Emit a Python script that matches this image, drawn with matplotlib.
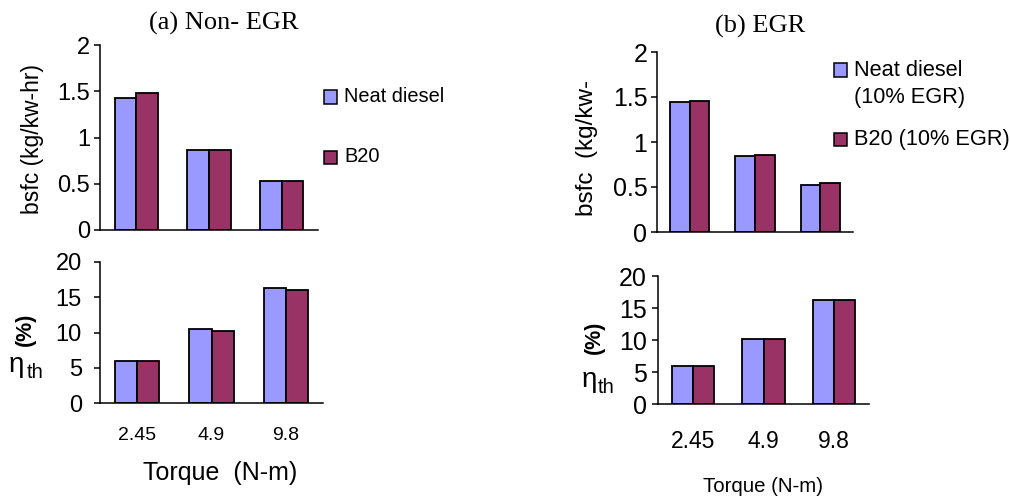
import matplotlib
matplotlib.use("Agg")
import matplotlib.pyplot as plt
from matplotlib.patches import Rectangle
import numpy as np

# torque levels (N-m)
torque = ["2.45", "4.9", "9.8"]

# (a) Non-EGR
bsfc_neat = [1.43, 0.86, 0.53]
bsfc_b20 = [1.48, 0.86, 0.53]
eff_neat = [5.9, 10.5, 16.3]
eff_b20 = [5.9, 10.2, 16.0]

# (b) EGR
bsfc_neat_egr = [1.44, 0.84, 0.52]
bsfc_b20_egr = [1.46, 0.86, 0.54]
eff_neat_egr = [6.0, 10.1, 16.3]
eff_b20_egr = [6.0, 10.1, 16.3]

bsfc_ticks = [0, 0.5, 1, 1.5, 2]
bsfc_tl = ["0", "0.5", "1", "1.5", "2"]
eff_ticks = [0, 5, 10, 15, 20]
eff_tl = ["0", "5", "10", "15", "20"]

c_neat = "#9999FF"
c_b20 = "#993366"
sans = "Liberation Sans"
serif = "Liberation Serif"

W, H = 1010, 500
fig = plt.figure(figsize=(W / 100, H / 100), dpi=100)


def px(x0, y0, x1, y1):
    # pixel box (top-left origin) -> figure fractions
    return [x0 / W, 1 - y1 / H, (x1 - x0) / W, (y1 - y0) / H]


def ftext(x, y, s, **kw):
    fig.text(x / W, 1 - y / H, s, **kw)


def panel(rect, a, b, ticks, tl, yfs, ypad=3, xfs=None, xpad=16):
    ax = fig.add_axes(rect)
    x = np.arange(len(torque))
    w = 0.3
    ax.bar(x - w / 2, a, w, color=c_neat, edgecolor="black", linewidth=1.3)
    ax.bar(x + w / 2, b, w, color=c_b20, edgecolor="black", linewidth=1.3)
    ax.set_xlim(-0.5, len(torque) - 0.5)
    ax.set_ylim(ticks[0], ticks[-1])
    ax.set_yticks(ticks)
    ax.set_yticklabels(tl, fontsize=yfs, family=sans)
    for s in ["top", "right"]:
        ax.spines[s].set_visible(False)
    ax.spines["left"].set_linewidth(1.1)
    ax.spines["bottom"].set_linewidth(1.1)
    ax.tick_params(axis="y", direction="out", length=4, width=1.1, pad=ypad)
    if xfs:
        ax.set_xticks(x)
        ax.set_xticklabels(torque, fontsize=xfs, family=sans)
        ax.tick_params(axis="x", length=0, pad=xpad)
    else:
        ax.set_xticks([])
    return ax


def legend(x, rows, fs, box=13):
    # rows: (y_centre, colour, label lines, line gap)
    for yc, col, lines, gap in rows:
        fig.add_artist(Rectangle((x / W, 1 - (yc + box / 2) / H), box / W, box / H,
                                 transform=fig.transFigure, facecolor=col,
                                 edgecolor="black", linewidth=1.1))
        for i, line in enumerate(lines):
            ftext(x + box + 7, yc + i * gap, line, fontsize=fs, family=sans,
                  ha="left", va="center")


# ---- (a) Non-EGR ----
panel(px(100, 45, 318, 230), bsfc_neat, bsfc_b20, bsfc_ticks, bsfc_tl, 17)
ftext(33, 139, "bsfc (kg/kw-hr)", fontsize=16.5, family=sans, rotation=90,
      ha="center", va="center")
ftext(224, 23, "(a) Non- EGR", fontsize=19, family=serif, ha="center", va="center")
legend(324, [(97, c_neat, ["Neat diesel"], 0), (157, c_b20, ["B20"], 0)], 14.4)

panel(px(100, 262, 323, 403), eff_neat, eff_b20, eff_ticks, eff_tl, 17, ypad=9,
      xfs=14, xpad=17)
ftext(220, 473, "Torque  (N-m)", fontsize=18, family=sans, ha="center", va="center")
ftext(9, 372, "η", fontsize=20, family=sans, ha="left", va="baseline")
ftext(27, 378, "th", fontsize=14.5, family=sans, ha="left", va="baseline")
ftext(25, 329, "(%)", fontsize=15.5, family=sans, weight="bold", rotation=90,
      ha="center", va="center")

# ---- (b) EGR ----
panel(px(657, 52, 853, 232), bsfc_neat_egr, bsfc_b20_egr, bsfc_ticks, bsfc_tl, 18)
ftext(587, 148, "bsfc  (kg/kw-", fontsize=17.5, family=sans, rotation=90,
      ha="center", va="center")
ftext(760, 26, "(b) EGR", fontsize=19, family=serif, ha="center", va="center")
legend(834, [(70, c_neat, ["Neat diesel", "(10% EGR)"], 28),
             (140, c_b20, ["B20 (10% EGR)"], 0)], 15.7)

panel(px(658, 276, 869, 404), eff_neat_egr, eff_b20_egr, eff_ticks, eff_tl, 18,
      ypad=4, xfs=16.5, xpad=19)
ftext(763, 487, "Torque (N-m)", fontsize=14.7, family=sans, ha="center", va="center")
ftext(582, 387, "η", fontsize=20, family=sans, ha="left", va="baseline")
ftext(598, 393, "th", fontsize=14.5, family=sans, ha="left", va="baseline")
ftext(594, 337, "(%)", fontsize=15.5, family=sans, weight="bold", rotation=90,
      ha="center", va="center")

fig.savefig("out.png", dpi=100)
